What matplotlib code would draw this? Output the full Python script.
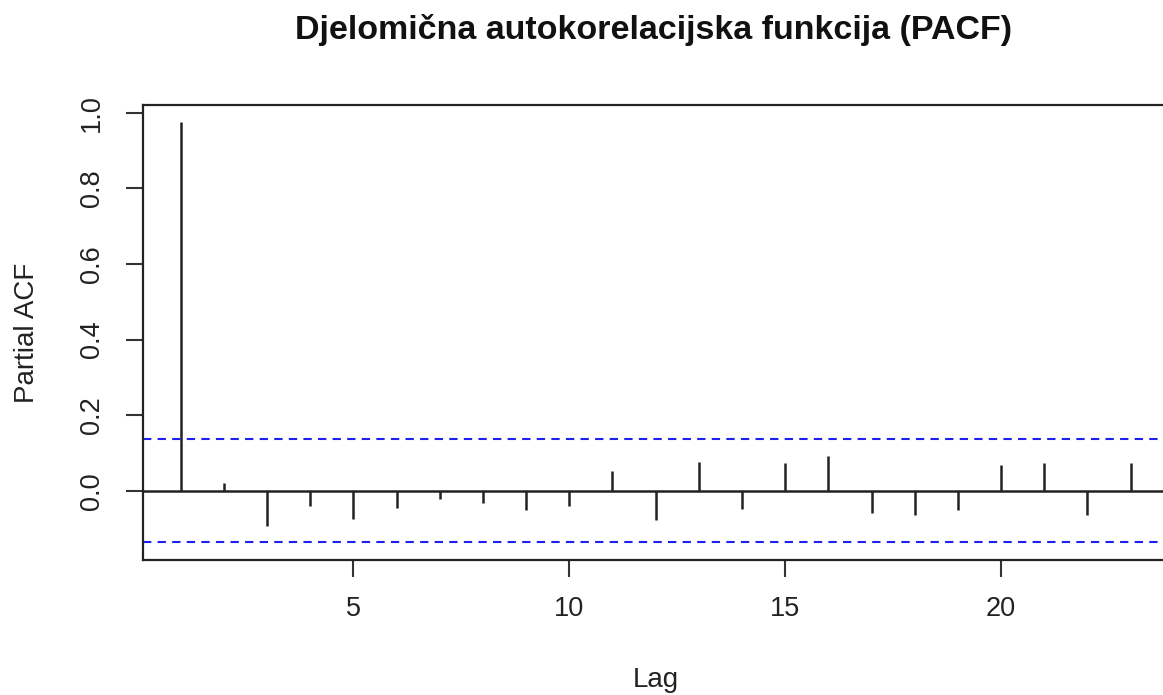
import matplotlib
matplotlib.use("Agg")
import matplotlib.pyplot as plt

# PACF values (lags 1..23)
lags = list(range(1, 24))
pacf = [0.975, 0.020, -0.092, -0.041, -0.074, -0.046, -0.022, -0.032, -0.050, -0.041,
        0.053, -0.078, 0.077, -0.048, 0.073, 0.091, -0.059, -0.065, -0.050, 0.067,
        0.073, -0.065, 0.073]
conf_limit = 0.136
x_ticks = [5, 10, 15, 20]
y_ticks = [0.0, 0.2, 0.4, 0.6, 0.8, 1.0]

plt.rcParams["font.family"] = ["Liberation Sans", "DejaVu Sans"]

fig = plt.figure(figsize=(11.63, 6.95), dpi=100)
# plot region runs past the right edge, as in the reference
ax = fig.add_axes([0.1227, 0.1942, 0.8821, 0.6547])

ax.vlines(lags, 0, pacf, color="#222222", lw=1.8)
ax.axhline(0, color="#222222", lw=1.8)
ax.axhline(conf_limit, color="#2020ee", lw=1.5, ls=(0, (4, 3)))
ax.axhline(-conf_limit, color="#2020ee", lw=1.5, ls=(0, (4, 3)))

ax.set_xlim(0.12, 23.88)
ax.set_ylim(-0.183, 1.020)
ax.set_xticks(x_ticks)
ax.set_yticks(y_ticks)
ax.set_yticklabels([f"{v:.1f}" for v in y_ticks], rotation=90, va="center")
ax.tick_params(axis="both", direction="out", length=12, width=1.5, color="#333333",
               labelsize=19.5, labelcolor="#222222")
ax.tick_params(axis="x", pad=14)
ax.tick_params(axis="y", pad=15)
for sp in ax.spines.values():
    sp.set_color("#222222")
    sp.set_linewidth(1.6)

ax.set_xlabel("Lag", fontsize=20, color="#222222", labelpad=32)
ax.set_ylabel("Partial ACF", fontsize=20, color="#222222", labelpad=28)
fig.text(0.5623, 0.957, "Djelomična autokorelacijska funkcija (PACF)", ha="center",
         va="center", fontsize=24.5, fontweight="bold", color="#111111")

fig.savefig("out.png", dpi=100)
